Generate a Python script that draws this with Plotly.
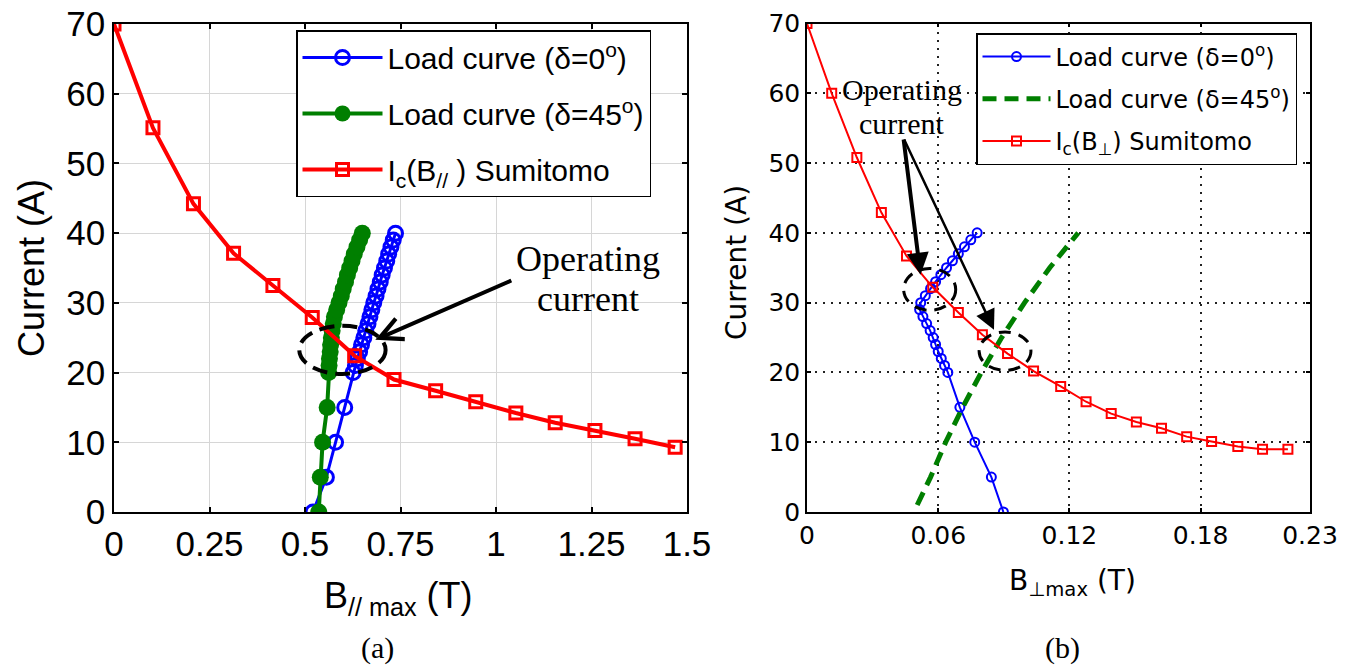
import plotly.graph_objects as go

W, H = 1359, 666

# ---------------- data: panel (a) ----------------
ic_par_B = [0, 0.102, 0.208, 0.313, 0.416, 0.519, 0.630, 0.733, 0.842, 0.947, 1.052, 1.155, 1.259, 1.364, 1.469]
ic_par_I = [70, 55.1, 44.2, 37.1, 32.5, 27.9, 22.4, 19.0, 17.4, 15.8, 14.2, 12.8, 11.7, 10.5, 9.3]

load_I = [0, 5, 10, 15, 20, 21, 22, 23, 24, 25, 26, 27, 28, 29, 30,
          31, 32, 33, 34, 35, 36, 37, 38, 39, 40]
load0_par_B = [0.521, 0.556, 0.580, 0.604, 0.626, 0.632, 0.637, 0.643, 0.648, 0.654, 0.659, 0.665,
               0.670, 0.675, 0.680, 0.686, 0.691, 0.697, 0.702, 0.708, 0.714, 0.719, 0.725, 0.731, 0.737]
load45_par_B = [0.536, 0.540, 0.546, 0.558, 0.562, 0.563, 0.564, 0.566, 0.567, 0.569, 0.571, 0.574,
                0.577, 0.583, 0.589, 0.595, 0.600, 0.606, 0.611, 0.617, 0.623, 0.629, 0.636, 0.643, 0.650]

# ---------------- data: panel (b) ----------------
ic_perp_B = [0, 0.0113, 0.0228, 0.0340, 0.0455, 0.0575, 0.0692, 0.0802, 0.0917, 0.1036, 0.1160,
             0.1276, 0.1391, 0.1506, 0.1621, 0.1736, 0.1850, 0.1970, 0.2083, 0.2199]
ic_perp_I = [70, 60.0, 50.8, 42.9, 36.7, 32.2, 28.6, 25.4, 22.7, 20.2, 18.0,
             15.8, 14.1, 12.9, 12.0, 10.8, 10.1, 9.4, 9.0, 9.0]

load0_perp_B = [0.0898, 0.0843, 0.0767, 0.0699, 0.0644, 0.0629, 0.0614, 0.0600, 0.0588, 0.0577,
                0.0563, 0.0547, 0.0530, 0.0515, 0.0520, 0.0541, 0.0565, 0.0588, 0.0612, 0.0638,
                0.0665, 0.0692, 0.0720, 0.0749, 0.0778]
load45_perp_I = [1, 5, 10, 15, 20, 25, 30, 35, 40]
load45_perp_B = [0.0504, 0.0565, 0.0634, 0.0712, 0.0797, 0.0890, 0.0995, 0.1110, 0.1240]

xticks_a = [0, 0.25, 0.5, 0.75, 1, 1.25, 1.5]
xticktext_a = ["0", "0.25", "0.5", "0.75", "1", "1.25", "1.5"]
xticks_b = [0, 0.06, 0.12, 0.18, 0.23]
xticktext_b = ["0", "0.06", "0.12", "0.18", "0.23"]
yticks = [0, 10, 20, 30, 40, 50, 60, 70]

SANS = "Liberation Sans, Arial, sans-serif"
SANS_B = "DejaVu Sans, sans-serif"
SERIF = "Liberation Serif, Times New Roman, serif"

def px(x):
    return x / W

def py(y):
    return 1 - y / H

fig = go.Figure()

# panel (a)
fig.add_trace(go.Scatter(x=load0_par_B, y=load_I, mode="lines+markers", name="Load curve (δ=0<sup>o</sup>)",
                         line=dict(color="#0000ff", width=3),
                         marker=dict(symbol="circle-open", size=14, color="#0000ff", line=dict(width=3)),
                         xaxis="x", yaxis="y", legend="legend", legendgroup="a1"))
fig.add_trace(go.Scatter(x=load45_par_B, y=load_I, mode="lines+markers", name="Load curve (δ=45<sup>o</sup>)",
                         line=dict(color="#007f00", width=4),
                         marker=dict(symbol="circle", size=17, color="#007f00"),
                         xaxis="x", yaxis="y", legend="legend", legendgroup="a2"))
fig.add_trace(go.Scatter(x=ic_par_B, y=ic_par_I, mode="lines+markers", name="I<sub>c</sub>(B<sub>//</sub> ) Sumitomo",
                         line=dict(color="#ff0000", width=4),
                         marker=dict(symbol="square-open", size=12, color="#ff0000", line=dict(width=3)),
                         xaxis="x", yaxis="y", legend="legend", legendgroup="a3"))

# panel (b)
fig.add_trace(go.Scatter(x=load0_perp_B, y=load_I, mode="lines+markers", name="Load curve (δ=0<sup>o</sup>)",
                         line=dict(color="#0000ff", width=2),
                         marker=dict(symbol="circle-open", size=9, color="#0000ff", line=dict(width=2)),
                         xaxis="x2", yaxis="y2", legend="legend2", legendgroup="b1"))
fig.add_trace(go.Scatter(x=load45_perp_B, y=load45_perp_I, mode="lines", name="Load curve (δ=45<sup>o</sup>)",
                         line=dict(color="#007f00", width=5, dash="14px,8px"),
                         xaxis="x2", yaxis="y2", legend="legend2", legendgroup="b2"))
fig.add_trace(go.Scatter(x=ic_perp_B, y=ic_perp_I, mode="lines+markers", name="I<sub>c</sub>(B<sub>⊥</sub>) Sumitomo",
                         line=dict(color="#ff0000", width=2),
                         marker=dict(symbol="square-open", size=9, color="#ff0000", line=dict(width=2)),
                         xaxis="x2", yaxis="y2", legend="legend2", legendgroup="b3"))

axis_common = dict(showline=True, linecolor="black", mirror="ticks", ticks="inside",
                   tickcolor="black", zeroline=False, showgrid=True, automargin=False,
                   ticklabeloverflow="allow")

fig.update_layout(
    width=W, height=H, margin=dict(l=0, r=0, t=0, b=0, autoexpand=False),
    paper_bgcolor="white", plot_bgcolor="white",
    xaxis=dict(domain=[px(114), px(687)], range=[0, 1.5], tickvals=xticks_a, ticktext=xticktext_a,
               tickfont=dict(family=SANS, size=35, color="black"), ticklen=5, tickwidth=1.5, linewidth=1.5,
               gridcolor="#d6d6d6", gridwidth=1, anchor="y", **axis_common),
    yaxis=dict(domain=[py(512), py(24)], range=[0, 70], tickvals=yticks,
               tickfont=dict(family=SANS, size=35, color="black"), ticklen=5, tickwidth=1.5, linewidth=1.5,
               gridcolor="#d6d6d6", gridwidth=1, anchor="x", **axis_common),
    xaxis2=dict(domain=[px(807), px(1310)], range=[0, 0.23], tickvals=xticks_b, ticktext=xticktext_b,
                tickfont=dict(family=SANS_B, size=25, color="black"), ticklen=4, tickwidth=1.5, linewidth=1.5,
                gridcolor="#222", gridwidth=1.5, griddash="2px,6px", anchor="y2", **axis_common),
    yaxis2=dict(domain=[py(512), py(23.5)], range=[0, 70], tickvals=yticks,
                tickfont=dict(family=SANS_B, size=25, color="black"), ticklen=4, tickwidth=1.5, linewidth=1.5,
                gridcolor="#222", gridwidth=1.5, griddash="2px,6px", anchor="x2", **axis_common),
    legend=dict(x=px(296), y=py(30), xanchor="left", yanchor="top", bgcolor="white",
                bordercolor="black", borderwidth=1.5, font=dict(family=SANS, size=30, color="black"),
                itemwidth=80, tracegroupgap=14),
    legend2=dict(x=px(976), y=py(33), xanchor="left", yanchor="top", bgcolor="white",
                 bordercolor="black", borderwidth=1.5, font=dict(family=SANS_B, size=24, color="black"),
                 itemwidth=68, tracegroupgap=8),
    showlegend=True,
)

# ellipses marking operating points
fig.add_shape(type="circle", xref="x", yref="y", x0=0.485, x1=0.711, y0=19.8, y1=26.7,
              line=dict(color="black", width=4, dash="15px,8px"))
fig.add_shape(type="circle", xref="x2", yref="y2", x0=0.0442, x1=0.068, y0=28.9, y1=34.9,
              line=dict(color="black", width=3, dash="12px,8px"))
fig.add_shape(type="circle", xref="x2", yref="y2", x0=0.0787, x1=0.1024, y0=20.3, y1=25.8,
              line=dict(color="black", width=3, dash="12px,8px"))

ann = []
# arrows
ann.append(dict(x=0.684, y=24.7, ax=1.044, ay=33.3, xref="x", yref="y", axref="x", ayref="y",
                showarrow=True, arrowhead=5, arrowwidth=4, arrowsize=1.1, arrowcolor="black", text=""))
ann.append(dict(x=0.0519, y=34.0, ax=0.0441, ay=53.6, xref="x2", yref="y2", axref="x2", ayref="y2",
                showarrow=True, arrowhead=2, arrowwidth=4, arrowsize=1.1, arrowcolor="black", text=""))
ann.append(dict(x=0.0855, y=26.1, ax=0.0441, ay=53.6, xref="x2", yref="y2", axref="x2", ayref="y2",
                showarrow=True, arrowhead=2, arrowwidth=2.5, arrowsize=1.6, arrowcolor="black", text=""))

# "Operating current" texts
ann.append(dict(x=px(588), y=py(259), xref="paper", yref="paper", text="Operating", showarrow=False,
                font=dict(family=SERIF, size=36, color="black"), xanchor="center", yanchor="middle"))
ann.append(dict(x=px(588), y=py(299), xref="paper", yref="paper", text="current", showarrow=False,
                font=dict(family=SERIF, size=36, color="black"), xanchor="center", yanchor="middle"))
ann.append(dict(x=px(902), y=py(90), xref="paper", yref="paper", text="Operating", showarrow=False,
                font=dict(family=SERIF, size=30, color="black"), xanchor="center", yanchor="middle"))
ann.append(dict(x=px(902), y=py(123), xref="paper", yref="paper", text="current", showarrow=False,
                font=dict(family=SERIF, size=30, color="black"), xanchor="center", yanchor="middle"))

# axis titles
ann.append(dict(x=px(31), y=py(268), xref="paper", yref="paper", text="Current (A)", textangle=-90,
                showarrow=False, font=dict(family=SANS, size=36, color="black"),
                xanchor="center", yanchor="middle"))
ann.append(dict(x=px(398), y=py(598), xref="paper", yref="paper", text="B<sub>// max</sub> (T)",
                showarrow=False, font=dict(family=SANS, size=36, color="black"),
                xanchor="center", yanchor="middle"))
ann.append(dict(x=px(736), y=py(263), xref="paper", yref="paper", text="Current (A)", textangle=-90,
                showarrow=False, font=dict(family=SANS_B, size=28, color="black"),
                xanchor="center", yanchor="middle"))
ann.append(dict(x=px(1072), y=py(582), xref="paper", yref="paper", text="B<sub>⊥max</sub> (T)",
                showarrow=False, font=dict(family=SANS_B, size=28, color="black"),
                xanchor="center", yanchor="middle"))
# panel labels
ann.append(dict(x=px(378), y=py(648), xref="paper", yref="paper", text="(a)", showarrow=False,
                font=dict(family=SERIF, size=30, color="black"), xanchor="center", yanchor="middle"))
ann.append(dict(x=px(1062), y=py(648), xref="paper", yref="paper", text="(b)", showarrow=False,
                font=dict(family=SERIF, size=30, color="black"), xanchor="center", yanchor="middle"))

fig.update_layout(annotations=ann)

# remove the default page margin so the figure sits at the window origin
fig.write_html("out.html", config={"displayModeBar": False},
               post_script="document.body.style.margin='0';document.body.style.overflow='hidden';")
